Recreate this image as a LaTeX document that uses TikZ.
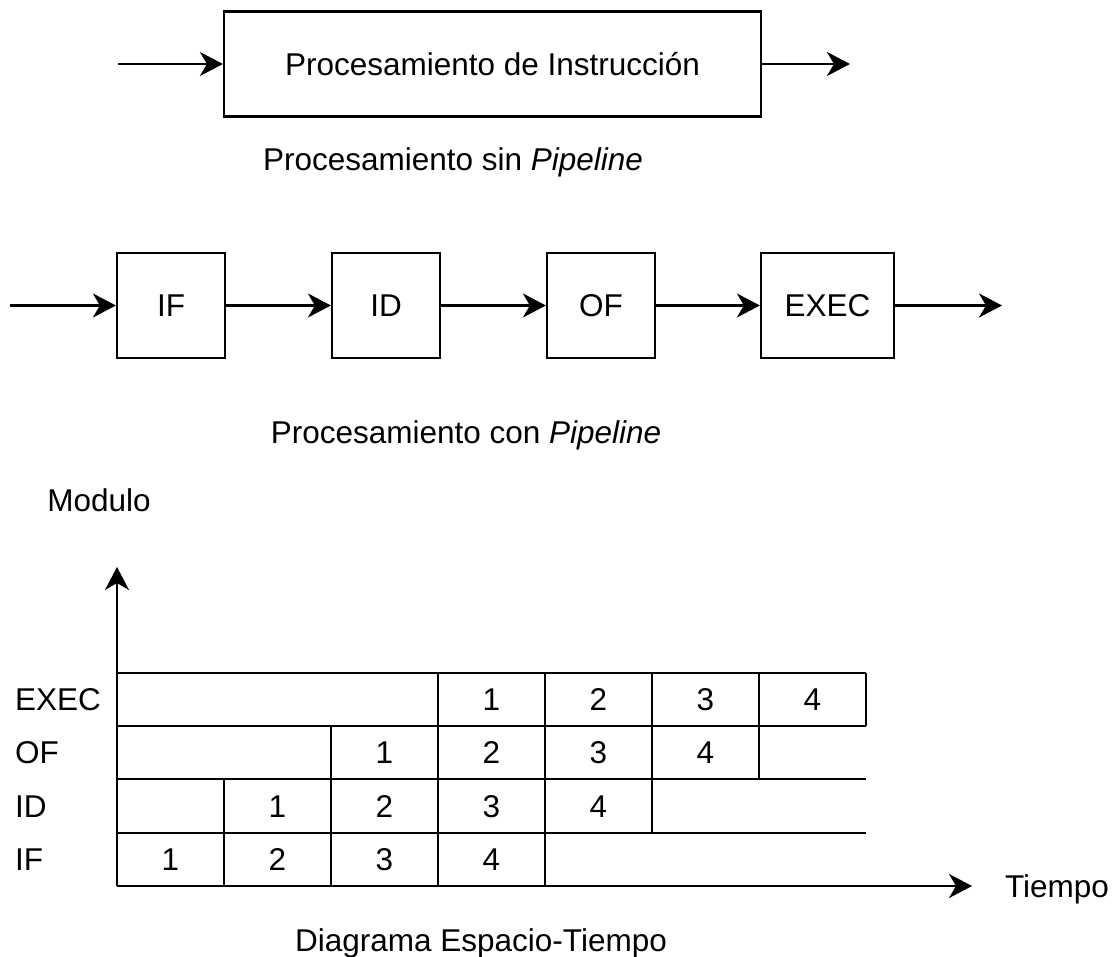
\documentclass[tikz,border=0pt]{standalone}
\usepackage{fontspec}
\setmainfont{Liberation Sans}
\usetikzlibrary{arrows.meta}
\begin{document}
\begin{tikzpicture}[x=1pt,y=-1pt,
  font=\fontsize{31.5}{38}\selectfont,
  line width=2.2pt,
  arr/.style={-{Stealth[length=23pt,width=24pt,inset=7pt]}},
  box/.style={draw, line width=2.2pt, inner sep=0pt, text height=22.5pt, text depth=0pt, minimum height=105pt},
  lab/.style={inner sep=0pt, text height=22.5pt, text depth=0pt},
  capt/.style={inner sep=0pt, anchor=base},
  hline/.style={line width=2.2pt},
  vline/.style={line width=1.7pt}
]
\useasboundingbox (0,0) rectangle (1114,957);

% --- Processing without pipeline
\node[box, minimum width=537pt] (proc) at (492.5,64) {Procesamiento de Instrucción};
\coordinate (in1) at (118,64);
\coordinate (out1) at (850,64);
\draw[arr] (in1) -- (proc.west);
\draw[arr] (proc.east) -- (out1);
\node[capt] (cap1) at (453,171) {Procesamiento sin \textit{Pipeline}};

% --- Processing with pipeline
\node[box, minimum width=108pt] (if) at (171,305.5) {IF};
\node[box, minimum width=108pt] (id) at (386,305.5) {ID};
\node[box, minimum width=108pt] (of) at (601,305.5) {OF};
\node[box, minimum width=133pt] (ex) at (827.5,305.5) {EXEC};
\coordinate (in2) at (10,305.5);
\coordinate (out2) at (1002,305.5);
\draw[arr] (in2) -- (if.west);
\draw[arr] (if.east) -- (id.west);
\draw[arr] (id.east) -- (of.west);
\draw[arr] (of.east) -- (ex.west);
\draw[arr] (ex.east) -- (out2);
\node[capt] (cap2) at (466,443) {Procesamiento con \textit{Pipeline}};

% --- Space-time diagram
\coordinate (O) at (117,886);
\coordinate (ytip) at (117,567);
\coordinate (xtip) at (972,886);
\draw[arr, line width=2pt] (O) -- (ytip);
\draw[arr, line width=2pt] (O) -- (xtip);
\node[capt] (modulo) at (99,511) {Modulo};
\node[capt, anchor=base west] (tiempo) at (1004,897) {Tiempo};
\node[capt] (cap3) at (481,951) {Diagrama Espacio-Tiempo};

% horizontal row lines
\foreach \yy in {673,726,779,833}
  \draw[hline] (117,\yy) -- (866,\yy);

% vertical cell lines
\foreach \xx in {438,545,652,759,866} \draw[vline] (\xx,673) -- (\xx,726);
\foreach \xx in {331,438,545,652,759} \draw[vline] (\xx,726) -- (\xx,779);
\foreach \xx in {224,331,438,545,652} \draw[vline] (\xx,779) -- (\xx,833);
\foreach \xx in {224,331,438,545} \draw[vline] (\xx,833) -- (\xx,886);

% row labels
\node[lab, anchor=west] (lexec) at (14,699.5) {EXEC};
\node[lab, anchor=west] (lof) at (14,752.5) {OF};
\node[lab, anchor=west] (lid) at (14,806) {ID};
\node[lab, anchor=west] (lif) at (14,859.5) {IF};

% cell numbers
\foreach \n [count=\i from 0] in {1,2,3,4} {
  \node[lab] (e\n) at (491.5+107*\i,699.5) {\n};
  \node[lab] (o\n) at (384.5+107*\i,752.5) {\n};
  \node[lab] (d\n) at (277.5+107*\i,806) {\n};
  \node[lab] (f\n) at (170.5+107*\i,859.5) {\n};
}
\end{tikzpicture}
\end{document}
